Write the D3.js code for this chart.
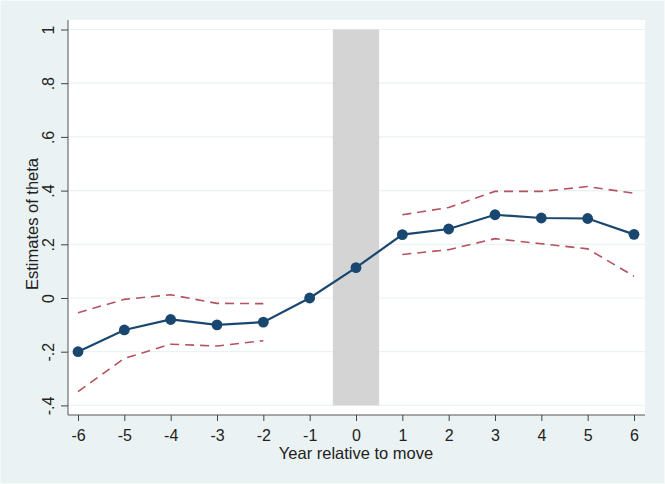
<!DOCTYPE html>
<html>
<head>
<meta charset="utf-8">
<script src="https://cdn.jsdelivr.net/npm/d3@7"></script>
<style>
  body { margin: 0; background: #eaf2f3; }
  text { font-family: "Liberation Sans", Arial, sans-serif; fill: #222; }
</style>
</head>
<body>
<div id="chart"></div>
<script>
// event-study estimates
var years = [-6, -5, -4, -3, -2, -1, 0, 1, 2, 3, 4, 5, 6];
var theta = [-0.200, -0.119, -0.080, -0.100, -0.090, 0.000, 0.113, 0.236, 0.257, 0.310, 0.298, 0.296, 0.237];

// confidence bands, drawn as two dashed pieces (before / after the move)
var ciYearsPre = [-6, -5, -4, -3, -2];
var ciUpperPre = [-0.055, -0.005, 0.012, -0.020, -0.021];
var ciLowerPre = [-0.349, -0.225, -0.172, -0.179, -0.159];
var ciYearsPost = [1, 2, 3, 4, 5, 6];
var ciUpperPost = [0.310, 0.337, 0.397, 0.397, 0.415, 0.390];
var ciLowerPost = [0.162, 0.180, 0.221, 0.202, 0.183, 0.081];

var xTicks = [-6, -5, -4, -3, -2, -1, 0, 1, 2, 3, 4, 5, 6];
var yTicks = [-0.4, -0.2, 0, 0.2, 0.4, 0.6, 0.8, 1];
var shade = [-0.5, 0.5];

var W = 665, H = 484;
var plot = {left: 68, right: 645, top: 20, bottom: 415};

var svg = d3.select("#chart").append("svg")
  .attr("width", W)
  .attr("height", H);

svg.append("rect")
  .attr("x", 0.5).attr("y", 0.5)
  .attr("width", W - 1).attr("height", H - 1)
  .attr("fill", "#eaf2f3")
  .attr("stroke", "#f6f9f9");

var x = d3.scaleLinear().domain([-6, 6]).range([78, 634]);
var y = d3.scaleLinear().domain([-0.4, 1]).range([405.4, 29.5]);

// white plot region
svg.append("rect")
  .attr("x", plot.left).attr("y", plot.top)
  .attr("width", plot.right - plot.left)
  .attr("height", plot.bottom - plot.top)
  .attr("fill", "#ffffff");

// grid
svg.append("g").selectAll("line")
  .data(yTicks)
  .enter().append("line")
    .attr("x1", plot.left).attr("x2", plot.right)
    .attr("y1", function(d) { return y(d); })
    .attr("y2", function(d) { return y(d); })
    .attr("stroke", "#eaf2f3")
    .attr("stroke-width", 1.2);

// shaded year of the move
svg.append("rect")
  .attr("x", x(shade[0]))
  .attr("y", y(1))
  .attr("width", x(shade[1]) - x(shade[0]))
  .attr("height", y(-0.4) - y(1))
  .attr("fill", "#d4d4d4");

// stata style labels: ".8", "-.2", plain hyphen
var yFmt = function(d) {
  if (d === 0) return "0";
  if (d === 1) return "1";
  return String(Math.round(d * 10) / 10).replace("0.", ".");
};
var xFmt = function(d) { return String(d); };

// y axis
var yAxis = svg.append("g")
  .attr("transform", "translate(" + plot.left + ",0)")
  .call(d3.axisLeft(y).tickValues(yTicks).tickSize(7).tickPadding(4).tickFormat(yFmt));
yAxis.select(".domain").attr("d", "M0," + plot.top + "V" + plot.bottom).attr("stroke", "#555");
yAxis.selectAll(".tick line").attr("stroke", "#444");
yAxis.selectAll("text")
  .attr("font-size", 16)
  .attr("fill", "#222")
  .attr("text-anchor", "middle")
  .attr("dy", 0)
  .attr("transform", "translate(-14,0) rotate(-90)")
  .attr("x", 0)
  .attr("y", 0);

// x axis
var xAxis = svg.append("g")
  .attr("transform", "translate(0," + plot.bottom + ")")
  .call(d3.axisBottom(x).tickValues(xTicks).tickSize(6).tickPadding(9).tickFormat(xFmt));
xAxis.select(".domain").attr("d", "M" + plot.left + ",0H" + plot.right).attr("stroke", "#555");
xAxis.selectAll(".tick line").attr("stroke", "#444");
xAxis.selectAll("text").attr("font-size", 16).attr("fill", "#222");

svg.append("text")
  .attr("x", x(0)).attr("y", 459)
  .attr("text-anchor", "middle")
  .attr("font-size", 16.5)
  .text("Year relative to move");

svg.append("text")
  .attr("transform", "translate(38,224) rotate(-90)")
  .attr("text-anchor", "middle")
  .attr("font-size", 16.5)
  .text("Estimates of theta");

// dashed confidence lines
var line = d3.line()
  .x(function(d) { return x(d[0]); })
  .y(function(d) { return y(d[1]); });

var ciSets = [
  d3.zip(ciYearsPre, ciUpperPre),
  d3.zip(ciYearsPre, ciLowerPre),
  d3.zip(ciYearsPost, ciUpperPost),
  d3.zip(ciYearsPost, ciLowerPost)
];

svg.append("g").selectAll("path")
  .data(ciSets)
  .enter().append("path")
    .attr("d", line)
    .attr("fill", "none")
    .attr("stroke", "#b4535f")
    .attr("stroke-width", 1.6)
    .attr("stroke-dasharray", "9,6");

// estimates
var pts = d3.zip(years, theta);
svg.append("path")
  .datum(pts)
  .attr("d", line)
  .attr("fill", "none")
  .attr("stroke", "#1a476f")
  .attr("stroke-width", 2.2);

svg.append("g").selectAll("circle")
  .data(pts)
  .enter().append("circle")
    .attr("cx", function(d) { return x(d[0]); })
    .attr("cy", function(d) { return y(d[1]); })
    .attr("r", 5.4)
    .attr("fill", "#1a476f");
</script>
</body>
</html>
